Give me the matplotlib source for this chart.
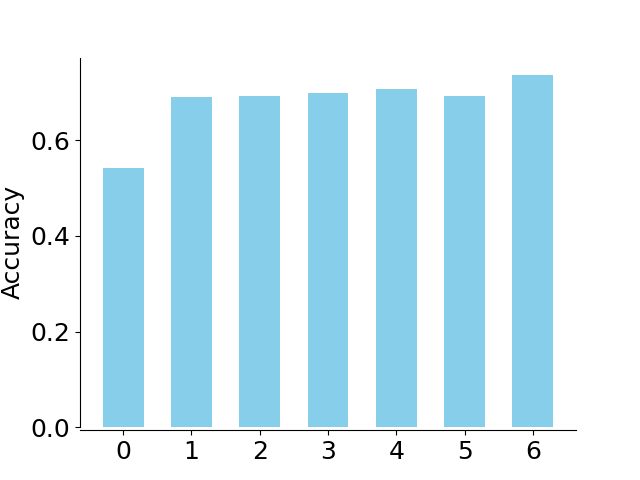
import matplotlib
matplotlib.use("Agg")
import matplotlib.pyplot as plt

categories = [0, 1, 2, 3, 4, 5, 6]
accuracy = [0.541, 0.690, 0.693, 0.699, 0.708, 0.692, 0.736]

fig, ax = plt.subplots(figsize=(6.4, 4.8), dpi=100)
ax.bar(categories, accuracy, width=0.6, color="skyblue")
ax.set_ylabel("Accuracy", fontsize=18)
ax.set_xticks(categories)
ax.tick_params(labelsize=18)
ax.spines["top"].set_visible(False)
ax.spines["right"].set_visible(False)
ax.spines["bottom"].set_position(("outward", 2))
fig.savefig("out.png")
